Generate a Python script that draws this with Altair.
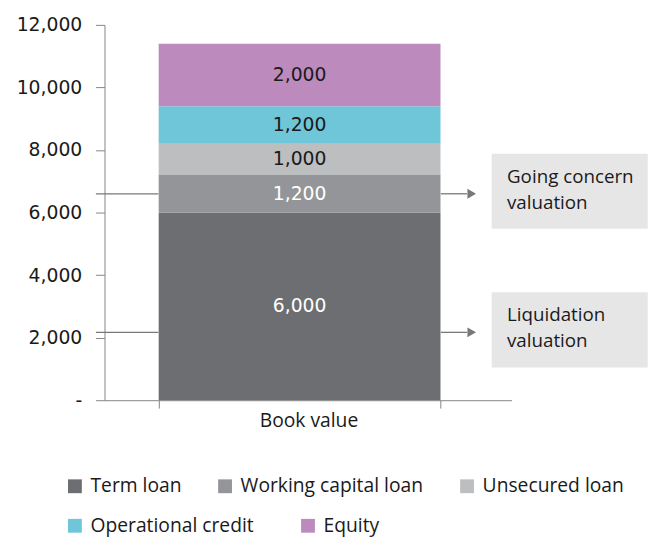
import altair as alt
import pandas as pd

# ---- data ----
categories = ["Term loan", "Working capital loan", "Unsecured loan", "Operational credit", "Equity"]
values = [6000, 1200, 1000, 1200, 2000]
bar_label = ["Book value"] * len(categories)
order_idx = [0, 1, 2, 3, 4]
colors = ["#6d6e71", "#939598", "#bcbec0", "#6fc6d8", "#bd8abe"]

ann_line1 = ["Going concern", "Liquidation"]
ann_line2 = ["valuation", "valuation"]
ann_values = [6600, 2170]

y_ticks = [0, 2000, 4000, 6000, 8000, 10000, 12000]

df = pd.DataFrame({"bar": bar_label, "cat": categories, "value": values, "idx": order_idx})
ann = pd.DataFrame({"l1": ann_line1, "l2": ann_line2, "val": ann_values})

NUM_FONT = "DejaVu Sans"
TXT_FONT = "Open Sans"
AX_COLOR = "#848484"
LINE_COLOR = "#77787b"
TXT_COLOR = "#1a1a1a"

yscale = alt.Scale(domain=[0, 12000], nice=False)
xscale = alt.Scale(paddingInner=0, paddingOuter=0.222, align=0.433)

stacked = alt.Chart(df).transform_stack(
    stack="value", groupby=["bar"], sort=[alt.SortField("idx", order="ascending")], as_=["v0", "v1"]
)

x_enc = alt.X("bar:N", scale=xscale,
              axis=alt.Axis(title=None, labelAngle=0, tickBand="extent", tickSize=8,
                            labelFont=TXT_FONT, labelFontSize=19.5, labelColor=TXT_COLOR,
                            labelPadding=4, labelOffset=9,
                            domainColor=AX_COLOR, tickColor=AX_COLOR, grid=False))
y_axis = alt.Axis(title=None, values=y_ticks, grid=False, tickSize=9, labelPadding=14,
                  labelFont=NUM_FONT, labelFontSize=19, labelColor=TXT_COLOR,
                  domainColor=AX_COLOR, tickColor=AX_COLOR,
                  labelExpr="datum.value == 0 ? '-' : format(datum.value, ',')")


def legend(ly, pad):
    return alt.Legend(title=None, orient="none", legendX=-39.7, legendY=ly,
                      direction="horizontal", columnPadding=pad,
                      symbolType="square", symbolSize=196, symbolStrokeWidth=0,
                      labelOffset=6, labelFont=TXT_FONT, labelFontSize=19.5,
                      labelColor=TXT_COLOR, labelLimit=400)


bars_a = stacked.transform_filter("datum.idx < 3").mark_bar().encode(
    x=x_enc,
    y=alt.Y("v0:Q", scale=yscale, axis=y_axis),
    y2="v1:Q",
    color=alt.Color("cat:N", scale=alt.Scale(domain=categories[:3], range=colors[:3]),
                    legend=legend(457, 34)),
)
bars_b = stacked.transform_filter("datum.idx >= 3").mark_bar().encode(
    x=alt.X("bar:N", scale=xscale),
    y=alt.Y("v0:Q", scale=yscale),
    y2="v1:Q",
    color=alt.Color("cat:N", scale=alt.Scale(domain=categories[3:], range=colors[3:]),
                    legend=legend(497, 45)),
)

labels = stacked.transform_calculate(
    mid="(datum.v0 + datum.v1) / 2"
).mark_text(font=NUM_FONT, fontSize=19).encode(
    x=alt.X("bar:N", scale=xscale),
    y=alt.Y("mid:Q", scale=yscale),
    text=alt.Text("value:Q", format=",.0f"),
    color=alt.condition("datum.idx < 2", alt.value("white"), alt.value(TXT_COLOR)),
)

ann_base = alt.Chart(ann).transform_calculate(top="datum.val + 1280", bot="datum.val - 1120")

boxes = ann_base.mark_rect(color="#e6e6e7").encode(
    x=alt.value(392), x2=alt.value(550),
    y=alt.Y("top:Q", scale=yscale), y2="bot:Q",
)

txt1 = ann_base.mark_text(font=TXT_FONT, fontSize=19, align="left", baseline="middle",
                          dy=-17, color=TXT_COLOR).encode(
    x=alt.value(407.5), y=alt.Y("val:Q", scale=yscale), text="l1:N",
)
txt2 = ann_base.mark_text(font=TXT_FONT, fontSize=19, align="left", baseline="middle",
                          dy=9, color=TXT_COLOR).encode(
    x=alt.value(407.5), y=alt.Y("val:Q", scale=yscale), text="l2:N",
)

left_rules = ann_base.mark_rule(color=LINE_COLOR, strokeWidth=1.3).encode(
    x=alt.value(-8.7), x2=alt.value(54.5), y=alt.Y("val:Q", scale=yscale),
)
right_rules = ann_base.mark_rule(color=LINE_COLOR, strokeWidth=1.3).encode(
    x=alt.value(340.5), x2=alt.value(367), y=alt.Y("val:Q", scale=yscale),
)
arrows = ann_base.mark_point(shape="triangle-right", filled=True, size=100, color=LINE_COLOR, opacity=1).encode(
    x=alt.value(371.8), y=alt.Y("val:Q", scale=yscale),
)

chart = alt.layer(bars_a, bars_b, labels, left_rules, right_rules, arrows, boxes, txt1, txt2).resolve_scale(
    color="independent"
).properties(
    width=412, height=380,
    autosize=alt.AutoSizeParams(type="none"),
    padding={"left": 97.7, "top": 13.8, "right": 141.3, "bottom": 136.2},
).configure_view(strokeWidth=0)

chart.save("out.html", embed_options={"renderer": "svg", "actions": False})
